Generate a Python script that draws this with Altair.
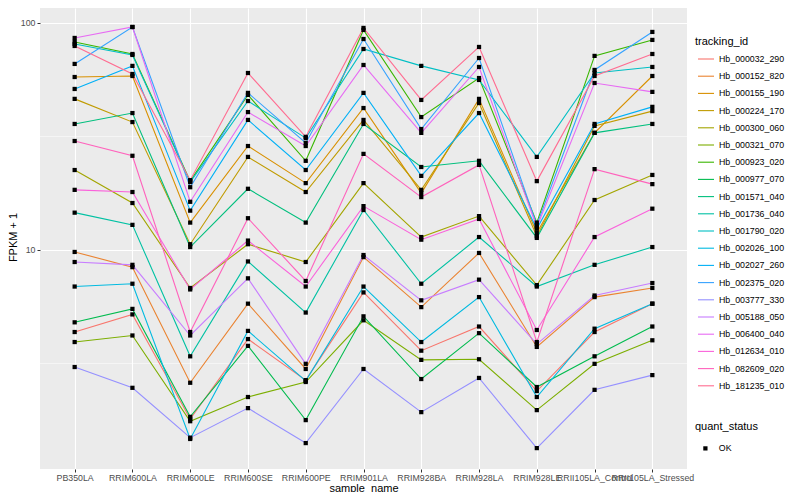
import altair as alt
import pandas as pd

samples = ["PB350LA", "RRIM600LA", "RRIM600LE", "RRIM600SE", "RRIM600PE", "RRIM901LA",
           "RRIM928BA", "RRIM928LA", "RRIM928LE", "RRII105LA_Control", "RRII105LA_Stressed"]

tracking_ids = ["Hb_000032_290", "Hb_000152_820", "Hb_000155_190", "Hb_000224_170",
                "Hb_000300_060", "Hb_000321_070", "Hb_000923_020", "Hb_000977_070",
                "Hb_001571_040", "Hb_001736_040", "Hb_001790_020", "Hb_002026_100",
                "Hb_002027_260", "Hb_002375_020", "Hb_003777_330", "Hb_005188_050",
                "Hb_006400_040", "Hb_012634_010", "Hb_082609_020", "Hb_181235_010"]

colors = ["#F8766D", "#EA8331", "#D89000", "#C09B00", "#A3A500", "#7CAE00", "#39B600",
          "#00BB4E", "#00BF7D", "#00C1A3", "#00BFC4", "#00BAE0", "#00B0F6", "#35A2FF",
          "#9590FF", "#C77CFF", "#E76BF3", "#FA62DB", "#FF62BC", "#FF6C91"]

# FPKM + 1 per sample (same order as samples)
Hb_000032_290 = [4.35, 5.2, 1.80, 4.05, 2.67, 6.5, 3.6, 4.6, 2.39, 4.35, 5.8]
Hb_000152_820 = [9.8, 8.4, 2.6, 5.8, 2.99, 9.3, 5.6, 9.7, 3.74, 6.2, 6.8]
Hb_000155_190 = [57.8, 58.4, 13.2, 28.7, 19.7, 42.2, 17.8, 46.3, 11.9, 32.8, 58.4]
Hb_000224_170 = [46.3, 36.6, 10.6, 25.7, 18.0, 37.4, 18.4, 44.4, 11.5, 35.2, 40.9]
Hb_000300_060 = [22.5, 16.1, 6.8, 10.6, 8.85, 19.7, 11.4, 14.1, 7.0, 16.6, 21.4]
Hb_000321_070 = [3.93, 4.2, 1.76, 2.25, 2.62, 4.9, 3.28, 3.3, 1.97, 3.15, 4.0]
Hb_000923_020 = [82.5, 73.0, 20.1, 48.2, 24.7, 93.2, 38.5, 57.2, 13.2, 71.6, 84.2]
Hb_000977_070 = [4.8, 5.5, 1.84, 3.78, 1.78, 5.1, 2.70, 4.3, 2.49, 3.4, 4.6]
Hb_001571_040 = [35.9, 40.1, 10.3, 18.6, 13.2, 35.9, 23.2, 24.7, 11.3, 32.8, 35.9]
Hb_001736_040 = [14.6, 12.9, 3.4, 8.9, 5.3, 15.0, 7.1, 11.4, 6.9, 8.6, 10.3]
Hb_001790_020 = [80.8, 72.3, 19.9, 45.3, 31.1, 76.8, 64.7, 56.1, 25.7, 60.2, 64.0]
Hb_002026_100 = [6.9, 7.1, 1.47, 4.4, 2.65, 6.9, 3.93, 6.2, 2.25, 4.5, 5.8]
Hb_002027_260 = [51.2, 64.7, 14.9, 37.4, 22.5, 49.2, 21.2, 40.1, 12.4, 35.9, 42.7]
Hb_002375_020 = [66.0, 96.0, 18.9, 49.2, 29.6, 85.0, 34.1, 70.1, 12.9, 62.1, 91.3]
Hb_003777_330 = [3.05, 2.47, 1.49, 2.01, 1.41, 2.99, 1.93, 2.73, 1.34, 2.42, 2.81]
Hb_005188_050 = [8.85, 8.6, 4.2, 7.5, 3.15, 9.5, 6.0, 7.4, 3.85, 6.3, 7.15]
Hb_006400_040 = [85.9, 96.0, 16.3, 40.5, 28.7, 65.3, 32.8, 64.0, 12.6, 54.4, 49.7]
Hb_012634_010 = [18.4, 18.0, 6.7, 11.0, 6.9, 15.6, 11.1, 13.7, 4.44, 11.4, 15.2]
Hb_082609_020 = [30.2, 26.0, 4.35, 13.8, 7.3, 26.5, 17.1, 23.7, 3.93, 22.7, 19.5]
Hb_181235_010 = [79.2, 59.6, 20.3, 60.2, 31.5, 95.1, 45.8, 78.4, 20.1, 58.4, 73.0]

series = [Hb_000032_290, Hb_000152_820, Hb_000155_190, Hb_000224_170, Hb_000300_060,
          Hb_000321_070, Hb_000923_020, Hb_000977_070, Hb_001571_040, Hb_001736_040,
          Hb_001790_020, Hb_002026_100, Hb_002027_260, Hb_002375_020, Hb_003777_330,
          Hb_005188_050, Hb_006400_040, Hb_012634_010, Hb_082609_020, Hb_181235_010]

major_breaks = [10, 100]
minor_breaks = [3.1623, 31.623]

rows = []
for tid, vals in zip(tracking_ids, series):
    for s, v in zip(samples, vals):
        rows.append({"sample_name": s, "tracking_id": tid, "FPKM": v, "quant_status": "OK"})
df = pd.DataFrame(rows)
minor_df = pd.DataFrame({"FPKM": minor_breaks})

yscale = alt.Scale(type="log", domain=[1.084, 116.4], nice=False)
yaxis = alt.Axis(title="FPKM + 1", values=major_breaks, format="d", labelFontSize=8.8,
                 labelColor="#4D4D4D", tickColor="#333333", tickSize=3,
                 labelPadding=2, domain=False, grid=True, gridColor="white",
                 gridWidth=1.1, titleFontSize=11, titleFontWeight="normal",
                 titleColor="black", titleX=-27, titleY=229,
                 titleBaseline="middle", titleAlign="center")
xaxis = alt.Axis(title="sample_name", labelAngle=0, labelFontSize=8.8,
                 labelColor="#4D4D4D", tickColor="#333333", tickSize=3,
                 labelPadding=1, domain=False, grid=True, gridColor="white",
                 gridWidth=1.1, labelOverlap=False, labelBound=False,
                 titleFontSize=11, titleFontWeight="normal", titleColor="black",
                 titleY=19, titleBaseline="middle")

xenc = alt.X("sample_name:N", sort=samples,
             scale=alt.Scale(type="point", padding=0.6), axis=xaxis)
yenc = alt.Y("FPKM:Q", scale=yscale, axis=yaxis)

minor = alt.Chart(minor_df).mark_rule(color="white", strokeWidth=0.55).encode(
    y=yenc
)

lines = alt.Chart(df).mark_line(strokeWidth=1.1).encode(
    x=xenc,
    y=yenc,
    color=alt.Color("tracking_id:N", scale=alt.Scale(domain=tracking_ids, range=colors),
                    legend=alt.Legend(title="tracking_id", orient="none", legendX=655,
                                      legendY=28, symbolType="stroke", symbolSize=256,
                                      symbolStrokeWidth=1.1, labelFontSize=8.8,
                                      titleFontSize=11, titleFontWeight="normal",
                                      rowPadding=3.2, titlePadding=3, padding=0,
                                      labelOffset=4, symbolOffset=2, labelColor="black",
                                      titleColor="black")),
    detail="tracking_id:N",
)

points = alt.Chart(df).mark_point(filled=True, color="black", size=18, opacity=1).encode(
    x=xenc,
    y=yenc,
    shape=alt.Shape("quant_status:N", scale=alt.Scale(domain=["OK"], range=["square"]),
                    legend=alt.Legend(title="quant_status", orient="none", legendX=655,
                                      legendY=413, symbolFillColor="black",
                                      symbolStrokeColor="black", symbolSize=18,
                                      labelFontSize=8.8, titleFontSize=11,
                                      titleFontWeight="normal", titlePadding=12, padding=0,
                                      symbolOffset=6, labelOffset=9, labelColor="black",
                                      titleColor="black")),
)

chart = alt.layer(minor, lines, points).properties(
    width=647, height=461,
    autosize=alt.AutoSizeParams(type="none"),
    padding={"left": 32, "top": 0, "right": 105, "bottom": 23},
).configure(
    font="Liberation Sans",
    view=alt.ViewConfig(fill="#EBEBEB", strokeWidth=0),
)

chart.save("out.html", embed_options={"renderer": "svg", "actions": False})
